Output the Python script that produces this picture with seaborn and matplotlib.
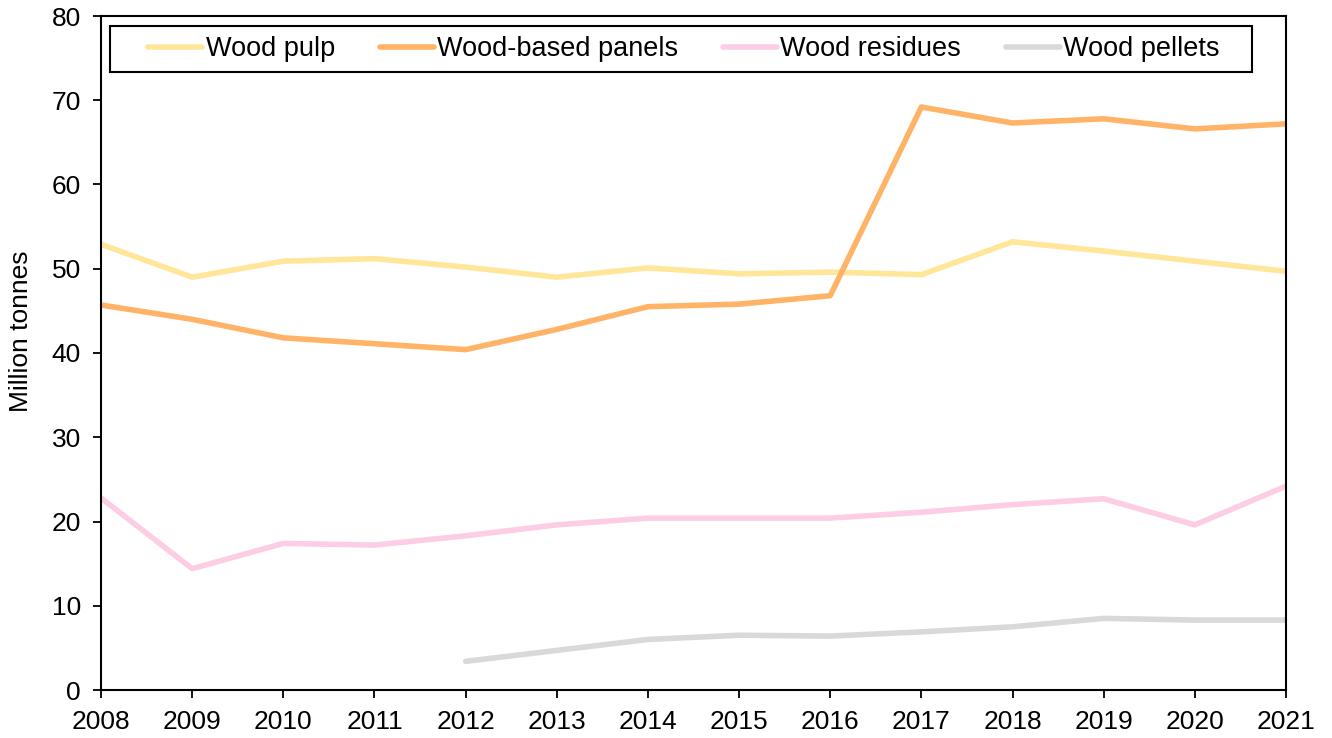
import numpy as np
import pandas as pd
import matplotlib
matplotlib.use("Agg")
import matplotlib.pyplot as plt
from matplotlib.patches import Rectangle
import seaborn as sns

years = list(range(2008, 2022))
wood_pulp = [52.9, 49.0, 50.9, 51.2, 50.2, 49.0, 50.1, 49.4, 49.6, 49.3, 53.2, 52.1, 50.9, 49.7]
wood_panels = [45.7, 44.0, 41.8, 41.1, 40.4, 42.8, 45.5, 45.8, 46.8, 69.2, 67.3, 67.8, 66.6, 67.2]
wood_residues = [22.8, 14.4, 17.4, 17.2, 18.3, 19.6, 20.4, 20.4, 20.4, 21.1, 22.0, 22.7, 19.6, 24.2]
wood_pellets = [None, None, None, None, 3.4, 4.7, 6.0, 6.5, 6.4, 6.9, 7.5, 8.5, 8.3, 8.3]
series_names = ["Wood pulp", "Wood-based panels", "Wood residues", "Wood pellets"]
colors = ["#FFE699", "#FFB366", "#FCCDE5", "#D9D9D9"]

rows = []
for name, vals in zip(series_names, [wood_pulp, wood_panels, wood_residues, wood_pellets]):
    for y, v in zip(years, vals):
        if v is not None:
            rows.append({"Year": y, "Value": v, "Series": name})
df = pd.DataFrame(rows)

sns.set_style("white")
plt.rcParams["font.family"] = ["Liberation Sans", "DejaVu Sans"]
plt.rcParams["text.color"] = "black"
plt.rcParams["axes.labelcolor"] = "black"

W, H = 1332, 738
L, R, T, B = 101, 1286, 16, 690
fig = plt.figure(figsize=(W/100, H/100), dpi=100)
ax = fig.add_axes([L/W, 1-B/H, (R-L)/W, (B-T)/H])

LW = 4.0
sns.lineplot(data=df, x="Year", y="Value", hue="Series", hue_order=series_names,
             palette=colors, linewidth=LW, ax=ax, legend=True)

ax.set_xlim(2008, 2021)
ax.set_ylim(0, 80)
ax.set_xticks(years)
ax.set_xticklabels([str(y) for y in years])
ax.set_yticks(range(0, 81, 10))
ax.set_xlabel("")
ax.set_ylabel("Million tonnes", fontsize=19, color="black")

def px2ax(x, y):
    return (x - L) / (R - L), (B - y) / (B - T)

ax.yaxis.set_label_coords(*px2ax(33, 331))
ax.tick_params(axis="both", length=5.5, width=1.3, direction="out",
               colors="black", labelcolor="black", bottom=True, left=True)
ax.tick_params(axis="x", labelsize=19, pad=9)
ax.tick_params(axis="y", labelsize=19, pad=9)
for sp in ax.spines.values():
    sp.set_color("black")
    sp.set_linewidth(1.5)

x0, y0 = px2ax(110, 72)
x1, y1 = px2ax(1252, 26)
ax.add_patch(Rectangle((x0, y0), x1 - x0, y1 - y0, transform=ax.transAxes,
                       fill=True, facecolor="white", edgecolor="black",
                       linewidth=1.5, zorder=5, clip_on=False))

handles, labels = ax.get_legend_handles_labels()
cx, cy = px2ax(684, 49)
leg = ax.legend(handles, labels, ncol=4, loc="center", bbox_to_anchor=(cx, cy),
                fontsize=19.5, frameon=False, handlelength=2.0, handletextpad=0.12,
                columnspacing=1.65, borderpad=0, borderaxespad=0)
leg.set_zorder(6)
for t in leg.get_texts():
    t.set_color("black")
for line in leg.get_lines():
    line.set_linewidth(LW)

fig.savefig("out.png", dpi=100)
